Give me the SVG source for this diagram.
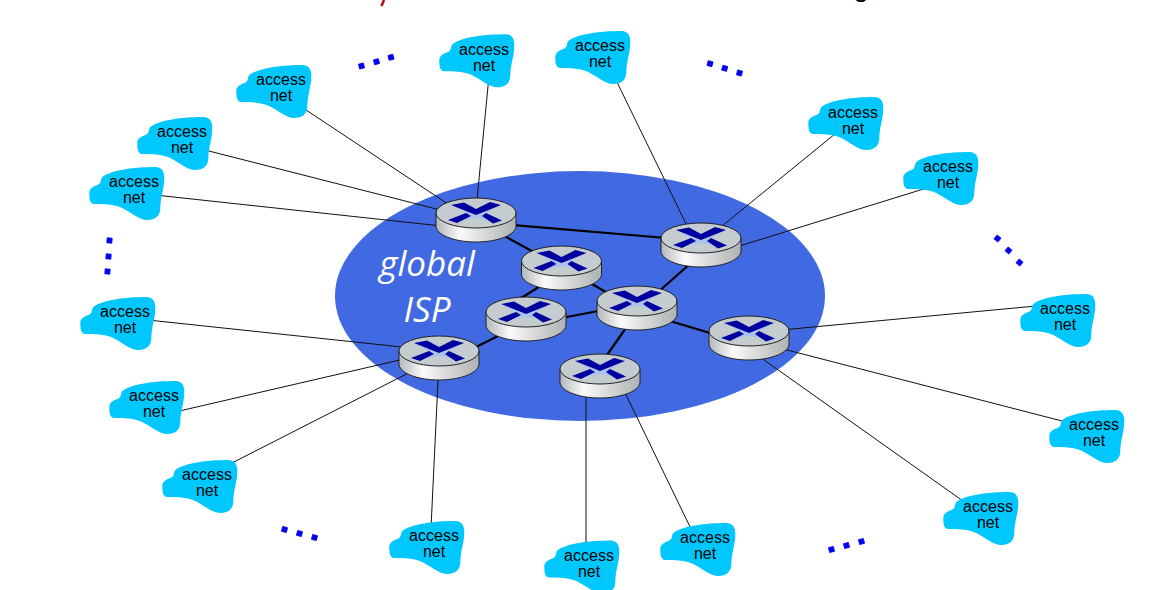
<svg xmlns="http://www.w3.org/2000/svg" width="1150" height="590" viewBox="0 0 1150 590">
<style>
.blob{fill:#00c8ff}
.t{font-family:"Liberation Sans",Arial,sans-serif;font-size:16px;text-anchor:middle;fill:#000}
.isp{font-family:"Open Sans",sans-serif;font-style:italic;font-size:35px;text-anchor:middle;fill:#fff}
.thin{stroke:#111;stroke-width:1;fill:none}
.thick{stroke:#000;stroke-width:2.2;fill:none}
.dot{fill:#0000f0;stroke:#0000f0;stroke-width:.8}
.rb{fill:url(#body);stroke:#222;stroke-width:1}
.rt{fill:#c4ccd0;stroke:#222;stroke-width:1}
.xl{fill:#a9c3ea}
.xd{fill:#0000a0}
</style>
<defs>
<linearGradient id="body" x1="0" x2="1" y1="0" y2="0"><stop offset="0" stop-color="#b4b8ba"/><stop offset=".3" stop-color="#fafafa"/><stop offset=".75" stop-color="#c8cacb"/><stop offset="1" stop-color="#aeb2b4"/></linearGradient>
<path id="cloud" class="blob" d="M0,25 C1,20 6,19 10,17 C12,15 11,13 13,10 C22,3 45,0 66,0 C73,0 75,5 75,11 C75,22 71,30 71,41 C71,49 66,53 58,53 C50,53 41,45 33,41 C25,37 13,37 5,37 C0,37 0,30 0,25 Z"/>
<g id="router">
<path class="rb" d="M-40,0 V14 C-38,23 -20,29 0,29 C20,29 38,23 40,14 V0 Z"/>
<ellipse class="rt" cx="0" cy="0" rx="40" ry="15"/>
<path class="xl" d="M-22,-6 L0,-3 L22,-6 L10,0 L22,9 L0,5 L-22,9 L-10,0 Z"/>
<path class="xd" d="M-25,-8 L-12,-10.500 L0,-4 L14,-11 L25,-8 L0,2 Z"/>
<path class="xd" d="M-28,7 L-10,0 L-5,3 L-19,10 Z"/>
<path class="xd" d="M26,7.500 L10,0 L6,3 L17,10.500 Z"/>
</g>
</defs>
<ellipse id="isp-cloud" cx="580" cy="296" rx="245" ry="125" fill="#4169e1"/>
<text class="isp" x="427" y="276">global</text>
<text class="isp" x="427" y="322">ISP</text>
<path d="M381.500,6 L384,0" stroke="#c00010" stroke-width="2.500" fill="none"/>
<text x="861" y="-4" font-family="Liberation Sans, sans-serif" font-size="28" text-anchor="middle" fill="#000">g</text>
<g id="connectors">
<g class="thin">
<path d="M489,76 L476,210"/>
<path d="M615,78 L690,232"/>
<path d="M300,106 L460,212"/>
<path d="M205,150 L460,215"/>
<path d="M155,195 L460,228"/>
<path d="M841,129 L705,240"/>
<path d="M930,187 L720,252"/>
<path d="M1036,306 L760,332"/>
<path d="M1062,421 L760,343"/>
<path d="M963,501 L750,350"/>
<path d="M692,531 L615,372"/>
<path d="M586,548 L586,380"/>
<path d="M431,528 L439,360"/>
<path d="M228,465 L430,362"/>
<path d="M175,412 L430,353"/>
<path d="M148,320 L430,350"/>
</g>
<g class="thick">
<path d="M500,224 L690,240"/>
<path d="M490,228 L550,261"/>
<path d="M550,280 L510,305"/>
<path d="M585,280 L625,303"/>
<path d="M540,322 L625,306"/>
<path d="M700,255 L640,308"/>
<path d="M650,315 L750,345"/>
<path d="M635,315 L600,365"/>
<path d="M520,325 L450,360"/>
</g>
</g>
<g id="router-1"><use href="#router" x="476" y="213"/></g>
<g id="router-2"><use href="#router" x="561.500" y="261"/></g>
<g id="router-3"><use href="#router" x="526" y="312"/></g>
<g id="router-4"><use href="#router" x="637" y="301"/></g>
<g id="router-5"><use href="#router" x="701" y="238"/></g>
<g id="router-6"><use href="#router" x="749" y="331"/></g>
<g id="router-7"><use href="#router" x="600" y="369"/></g>
<g id="router-8"><use href="#router" x="439" y="351"/></g>
<g id="access-1"><use href="#cloud" x="439.300" y="34.300"/><text class="t"><tspan x="484" y="55">access</tspan><tspan x="484" y="71">net</tspan></text></g>
<g id="access-2"><use href="#cloud" x="555.300" y="31"/><text class="t"><tspan x="600" y="51">access</tspan><tspan x="600" y="67">net</tspan></text></g>
<g id="access-3"><use href="#cloud" x="236.300" y="65"/><text class="t"><tspan x="281" y="85">access</tspan><tspan x="281" y="101">net</tspan></text></g>
<g id="access-4"><use href="#cloud" x="137.300" y="117"/><text class="t"><tspan x="182" y="137">access</tspan><tspan x="182" y="153">net</tspan></text></g>
<g id="access-5"><use href="#cloud" x="89.300" y="167"/><text class="t"><tspan x="134" y="187">access</tspan><tspan x="134" y="203">net</tspan></text></g>
<g id="access-6"><use href="#cloud" x="808.300" y="97"/><text class="t"><tspan x="853" y="118">access</tspan><tspan x="853" y="134">net</tspan></text></g>
<g id="access-7"><use href="#cloud" x="903.300" y="152"/><text class="t"><tspan x="948" y="172">access</tspan><tspan x="948" y="188">net</tspan></text></g>
<g id="access-8"><use href="#cloud" x="1020.300" y="294"/><text class="t"><tspan x="1065" y="314">access</tspan><tspan x="1065" y="330">net</tspan></text></g>
<g id="access-9"><use href="#cloud" x="1049.300" y="410"/><text class="t"><tspan x="1094" y="430">access</tspan><tspan x="1094" y="446">net</tspan></text></g>
<g id="access-10"><use href="#cloud" x="943.300" y="492"/><text class="t"><tspan x="988" y="512">access</tspan><tspan x="988" y="528">net</tspan></text></g>
<g id="access-11"><use href="#cloud" x="660.300" y="523"/><text class="t"><tspan x="705" y="543">access</tspan><tspan x="705" y="559">net</tspan></text></g>
<g id="access-12"><use href="#cloud" x="544.300" y="540.500"/><text class="t"><tspan x="589" y="561">access</tspan><tspan x="589" y="577">net</tspan></text></g>
<g id="access-13"><use href="#cloud" x="389.300" y="521"/><text class="t"><tspan x="434" y="541">access</tspan><tspan x="434" y="557">net</tspan></text></g>
<g id="access-14"><use href="#cloud" x="162.300" y="460"/><text class="t"><tspan x="207" y="480">access</tspan><tspan x="207" y="496">net</tspan></text></g>
<g id="access-15"><use href="#cloud" x="109.300" y="381"/><text class="t"><tspan x="154" y="401">access</tspan><tspan x="154" y="417">net</tspan></text></g>
<g id="access-16"><use href="#cloud" x="80.300" y="297"/><text class="t"><tspan x="125" y="317">access</tspan><tspan x="125" y="333">net</tspan></text></g>
<g id="dots" class="dot">
<rect x="359" y="63.500" width="5" height="5" transform="rotate(-15 361.500 66)"/><rect x="374" y="59.200" width="5" height="5" transform="rotate(-15 376.500 61.700)"/><rect x="388.500" y="54.800" width="5" height="5" transform="rotate(-15 391 57.300)"/>
<rect x="707.500" y="61.200" width="5" height="5" transform="rotate(15 710 63.700)"/><rect x="722.200" y="65.800" width="5" height="5" transform="rotate(15 724.700 68.300)"/><rect x="737" y="70.500" width="5" height="5" transform="rotate(15 739.500 73)"/>
<rect x="107" y="238" width="5" height="5" transform="rotate(5 109.500 240.500)"/><rect x="106" y="254" width="5" height="5" transform="rotate(5 108.500 256.500)"/><rect x="105" y="269" width="5" height="5" transform="rotate(5 107.500 271.500)"/>
<rect x="995" y="236" width="5" height="5" transform="rotate(40 997.500 238.500)"/><rect x="1006" y="248" width="5" height="5" transform="rotate(40 1008.500 250.500)"/><rect x="1017" y="260" width="5" height="5" transform="rotate(40 1019.500 262.500)"/>
<rect x="282" y="527" width="5" height="5" transform="rotate(15 284.500 529.500)"/><rect x="297" y="531" width="5" height="5" transform="rotate(15 299.500 533.500)"/><rect x="312" y="535" width="5" height="5" transform="rotate(15 314.500 537.500)"/>
<rect x="829" y="547" width="5" height="5" transform="rotate(-15 831.500 549.500)"/><rect x="844" y="543" width="5" height="5" transform="rotate(-15 846.500 545.500)"/><rect x="859" y="539" width="5" height="5" transform="rotate(-15 861.500 541.500)"/>
</g>
</svg>
